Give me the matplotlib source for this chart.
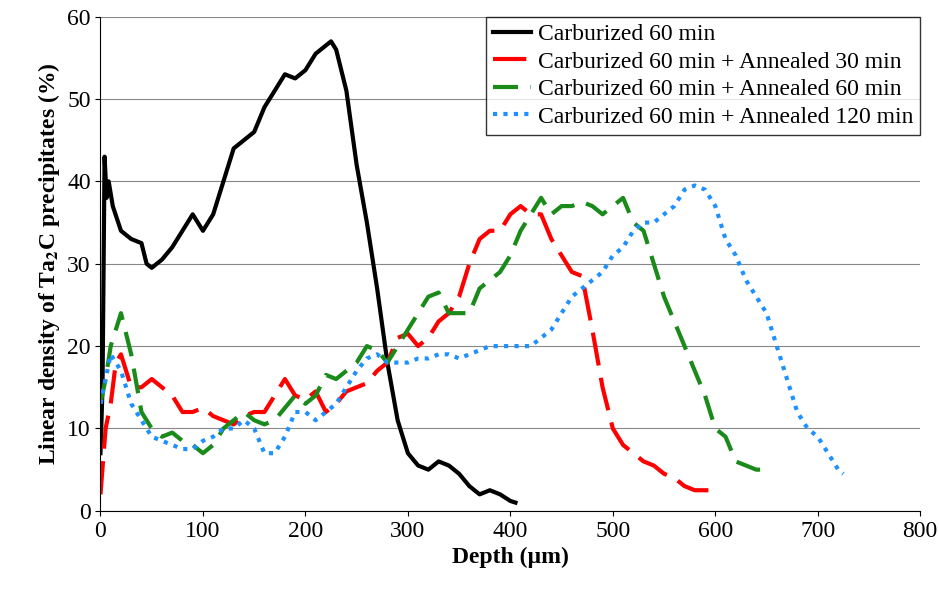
import matplotlib.pyplot as plt

plt.rcParams['font.family'] = ['Liberation Serif', 'DejaVu Serif']
plt.rcParams['mathtext.fontset'] = 'stix'

black_x = [0, 2, 4, 6, 8, 12, 20, 30, 40, 45, 50, 60, 70, 80, 90, 100, 110, 120, 130, 140, 150, 160, 170, 180, 190, 200, 210, 220, 225, 230, 240, 250, 260, 270, 280, 290, 300, 310, 320, 330, 340, 350, 360, 370, 380, 390, 400, 405]
black_y = [7, 15, 43, 38, 40, 37, 34, 33, 32.5, 30, 29.5, 30.5, 32, 34, 36, 34, 36, 40, 44, 45, 46, 49, 51, 53, 52.5, 53.5, 55.5, 56.5, 57, 56, 51, 42, 35, 27, 18, 11, 7, 5.5, 5, 6, 5.5, 4.5, 3, 2, 2.5, 2, 1.2, 1]

red_x = [0, 5, 10, 15, 20, 30, 40, 50, 60, 70, 80, 90, 100, 110, 120, 130, 140, 150, 160, 170, 180, 190, 200, 210, 220, 230, 240, 250, 260, 270, 280, 290, 300, 310, 320, 330, 340, 350, 360, 370, 380, 390, 400, 410, 420, 430, 440, 450, 460, 470, 480, 490, 500, 510, 520, 530, 540, 550, 560, 570, 580, 590, 600]
red_y = [2, 10, 13, 18, 19, 15, 15, 16, 15, 14, 12, 12, 12.5, 11.5, 11, 10.5, 11.5, 12, 12, 14, 16, 14, 13.5, 14.5, 12, 13, 14.5, 15, 15.5, 17, 18, 21, 21.5, 20, 21, 23, 24, 26, 30, 33, 34, 34, 36, 37, 36, 36, 33, 31, 29, 28.5, 22, 15, 10, 8, 7, 6, 5.5, 4.5, 4, 3, 2.5, 2.5, 2.5]

green_x = [0, 5, 10, 20, 30, 40, 50, 60, 70, 80, 90, 100, 110, 120, 130, 140, 150, 160, 170, 180, 190, 200, 210, 220, 230, 240, 250, 260, 270, 280, 290, 300, 310, 320, 330, 340, 350, 360, 370, 380, 390, 400, 410, 420, 430, 440, 450, 460, 470, 480, 490, 500, 510, 520, 530, 540, 550, 560, 570, 580, 590, 600, 610, 620, 630, 640, 645]
green_y = [13, 16, 20, 24, 19, 12, 10, 9, 9.5, 8.5, 8, 7, 8, 10, 11, 12, 11, 10.5, 11, 12.5, 14, 13, 14, 16.5, 16, 17, 18, 20, 19.5, 18, 20, 22, 24, 26, 26.5, 24, 24, 24, 27, 28, 29, 31, 34, 36, 38, 36, 37, 37, 37.5, 37, 36, 37, 38, 35, 34, 30, 26, 23, 20, 17, 14, 10, 9, 6, 5.5, 5, 5]

blue_x = [0, 5, 10, 20, 30, 40, 50, 60, 70, 80, 90, 100, 110, 120, 130, 140, 150, 160, 170, 180, 190, 200, 210, 220, 230, 240, 250, 260, 270, 280, 290, 300, 310, 320, 330, 340, 350, 360, 370, 380, 390, 400, 410, 420, 430, 440, 450, 460, 470, 480, 490, 500, 510, 520, 530, 540, 550, 560, 570, 580, 590, 600, 610, 620, 630, 640, 650, 660, 670, 680, 690, 700, 710, 720, 725]
blue_y = [13, 16, 19, 17, 13, 11, 9, 8.5, 8, 7.5, 7.5, 8.5, 9, 10, 10, 11, 10, 7, 7, 9, 12, 12, 11, 12, 13, 15, 17, 18.5, 19, 18, 18, 18, 18.5, 18.5, 19, 19, 18.5, 19, 19.5, 20, 20, 20, 20, 20, 21, 22, 24, 26, 27, 28, 29, 31, 32, 34, 35, 35, 36, 37, 39, 39.5, 39, 37, 33, 31, 28, 26, 24, 20, 16, 12, 10, 9, 7, 5, 4.5]

fig, ax = plt.subplots(figsize=(9.39, 5.94), dpi=100)
fig.subplots_adjust(left=0.107, right=0.98, top=0.972, bottom=0.14)

ax.plot(black_x, black_y, color='black', lw=3, label='Carburized 60 min')
ax.plot(red_x, red_y, color='#ff0000', lw=3, dashes=(8, 3), label='Carburized 60 min + Annealed 30 min')
ax.plot(green_x, green_y, color='#1a8a1a', lw=3, dashes=(6, 3), label='Carburized 60 min + Annealed 60 min')
ax.plot(blue_x, blue_y, color='#1e90ff', lw=3, dashes=(1, 1.5), label='Carburized 60 min + Annealed 120 min')

ax.set_xlim(0, 800)
ax.set_ylim(0, 60)
ax.set_xticks(range(0, 801, 100))
ax.set_yticks(range(0, 61, 10))
ax.yaxis.grid(True, color='#888888', lw=0.8)
ax.set_axisbelow(True)
ax.tick_params(labelsize=17, direction='out')
for s in ['top', 'right']:
    ax.spines[s].set_visible(False)
ax.set_xlabel('Depth (µm)', fontsize=17, fontweight='bold')
ax.set_ylabel(r'Linear density of Ta$_\mathbf{2}$C precipitates (%)', fontsize=17, fontweight='bold')
leg = ax.legend(loc='upper right', bbox_to_anchor=(1.0, 1.0), borderaxespad=0, fontsize=17,
                frameon=True, fancybox=False, edgecolor='black', handlelength=1.6,
                handletextpad=0.3, borderpad=0.3, labelspacing=0.25)
leg.get_frame().set_linewidth(1)
leg._legend_box.set_offset  # keep default
for t in leg.get_texts():
    t.set_ha('left')

fig.savefig('out.png')
